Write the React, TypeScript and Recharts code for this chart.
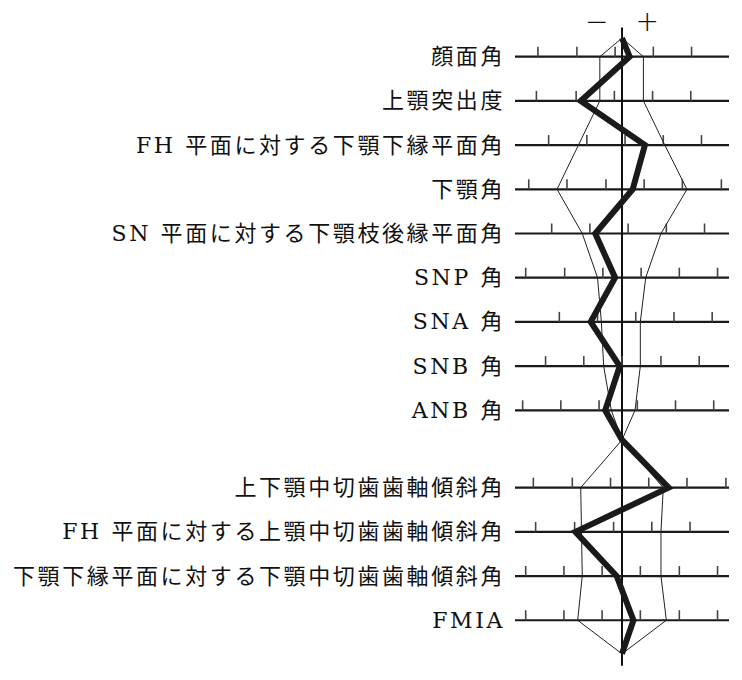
import React from "react";
import { ScatterChart, Scatter, XAxis, YAxis, ReferenceLine } from "recharts";

// measurement names, top to bottom
const labels = [
  "顔面角",
  "上顎突出度",
  "FH 平面に対する下顎下縁平面角",
  "下顎角",
  "SN 平面に対する下顎枝後縁平面角",
  "SNP 角",
  "SNA 角",
  "SNB 角",
  "ANB 角",
  "上下顎中切歯歯軸傾斜角",
  "FH 平面に対する上顎中切歯歯軸傾斜角",
  "下顎下縁平面に対する下顎中切歯歯軸傾斜角",
  "FMIA",
];

// scale marks on each row (deviation from the norm, 5 units per mark)
const rowTicks = [
  [-11.0, -5.9, -0.9, 4.1, 9.1],
  [-11.2, -6.0, -1.0, 4.0, 9.0],
  [-9.6, -4.6, 0.4, 5.4, 10.4],
  [-12.2, -7.2, -2.1, 2.9, 7.9, 13.0],
  [-9.2, -4.2, 0.8, 5.8, 10.8],
  [-12.6, -7.5, -2.5, 2.5, 7.5, 12.5],
  [-8.2, -3.2, 1.8, 6.8, 11.8],
  [-10.0, -5.0, 0, 5.1, 10.1],
  [-13.0, -8.0, -3.0, 2.0, 7.0, 12.0],
  [-11.6, -6.5, -1.5, 3.5, 8.5, 13.6],
  [-11.3, -6.2, -1.1, 3.9, 8.9],
  [-12.6, -7.6, -2.6, 2.4, 7.5, 12.5],
  [-12.6, -7.6, -2.6, 2.4, 7.5, 12.5],
];

// norm -1SD / +1SD
const sdMinus = [-2.9, -2.9, -5.7, -8.5, -5.2, -3.2, -2.7, -2.4, -1.4, -5.4, -5.3, -5.2, -5.8];
const sdPlus = [2.8, 2.8, 5.6, 8.5, 5.1, 3.1, 2.4, 2.4, 1.7, 5.4, 5.1, 5.1, 5.8];

// patient
const patient = [1.0, -5.4, 3.0, 1.4, -3.5, -0.9, -4.1, -0.3, -2.2, 6.1, -6.1, -0.7, 1.5];

const signs = ["−", "+"];

// layout in row units
const GROUP_SPLIT = 9;
const GROUP_GAP = 0.75;
const rowY = labels.map((_, i) => (i < GROUP_SPLIT ? i : i + GROUP_GAP));
const TOP = -0.42;
const MID = 8.67;
const BOTTOM = 13.51;

const outline = (vals: number[]) => [
  { x: 0, y: TOP },
  ...vals.slice(0, GROUP_SPLIT).map((v, i) => ({ x: v, y: rowY[i] })),
  { x: 0, y: MID },
  ...vals.slice(GROUP_SPLIT).map((v, i) => ({ x: v, y: rowY[i + GROUP_SPLIT] })),
  { x: 0, y: BOTTOM },
];

const tickData = rowTicks.flatMap((ts, i) => ts.map((t) => ({ x: t, y: rowY[i] })));
const signData = signs.map((s, i) => ({ x: i === 0 ? -3.3 : 3.3, y: -0.79, s }));

const FONT = "'DejaVu Serif', 'Noto Sans CJK JP', serif";

function RowLabel(props: any) {
  const { y, payload } = props;
  const i = rowY.indexOf(payload.value);
  return (
    <text
      x={505}
      y={y}
      textAnchor="end"
      dominantBaseline="central"
      fontFamily={FONT}
      fontSize={22}
      letterSpacing={2.6}
      fill="#111"
    >
      {labels[i]}
    </text>
  );
}

const TickMark = (props: any) => (
  <line x1={props.cx} y1={props.cy} x2={props.cx} y2={props.cy - 10} stroke="#444" strokeWidth={1.6} />
);

const SignMark = (props: any) => (
  <text
    x={props.cx}
    y={props.cy}
    textAnchor="middle"
    dominantBaseline="central"
    fontFamily="'DejaVu Sans', sans-serif"
    fontSize={28}
    fontWeight={300}
    fill="#111"
  >
    {props.payload.s}
  </text>
);

const NoDot = () => <g />;

export default function App() {
  return (
    <div style={{ position: "absolute", left: 0, top: 0, background: "#fff" }}>
      <ScatterChart width={742} height={680} margin={{ top: 12.5, right: 13, bottom: 4.5, left: 0 }}>
        <XAxis type="number" dataKey="x" domain={[-14, 14]} hide />
        <YAxis
          type="number"
          dataKey="y"
          domain={[-1, 14]}
          reversed
          width={515}
          ticks={rowY}
          interval={0}
          axisLine={false}
          tickLine={false}
          tick={<RowLabel />}
        />
        {rowY.map((y) => (
          <ReferenceLine key={y} y={y} stroke="#1a1a1a" strokeWidth={2.2} />
        ))}
        <Scatter data={tickData} shape={<TickMark />} isAnimationActive={false} />
        <Scatter
          data={outline(sdMinus)}
          shape={<NoDot />}
          line={{ stroke: "#222", strokeWidth: 1 }}
          isAnimationActive={false}
        />
        <Scatter
          data={outline(sdPlus)}
          shape={<NoDot />}
          line={{ stroke: "#222", strokeWidth: 1 }}
          isAnimationActive={false}
        />
        <ReferenceLine
          segment={[
            { x: 0, y: -0.66 },
            { x: 0, y: 13.78 },
          ]}
          stroke="#111"
          strokeWidth={2}
        />
        <Scatter
          data={outline(patient)}
          shape={<NoDot />}
          line={{ stroke: "#1a1a1a", strokeWidth: 6, strokeLinejoin: "miter" }}
          isAnimationActive={false}
        />
        <Scatter data={signData} shape={<SignMark />} isAnimationActive={false} />
      </ScatterChart>
    </div>
  );
}
